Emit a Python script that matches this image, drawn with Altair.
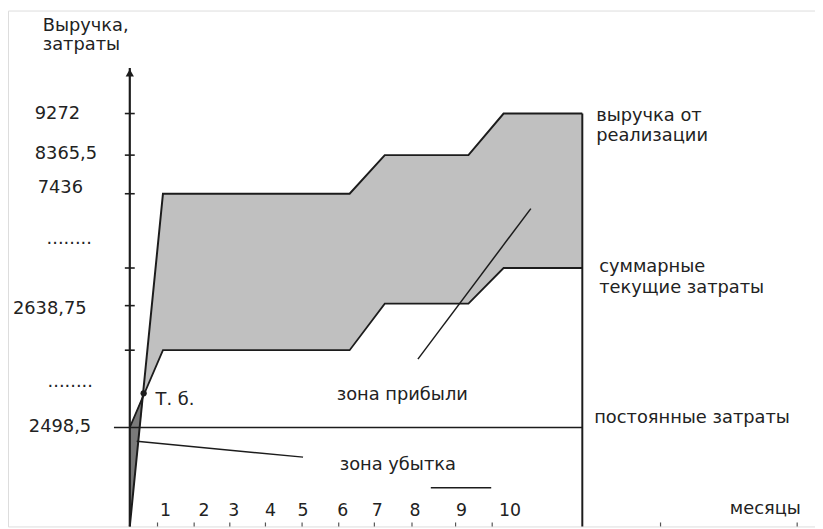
import altair as alt
import pandas as pd

# ---- diagram geometry (schematic units: x to the right, y downward) ----
AXIS_X = 131
AXIS_TOP = 66
BOTTOM = 529
RIGHT_X = 588
FIXED_Y = 429

# step breakpoints shared by revenue and total-cost lines
step_x = [164.5, 353, 388.5, 473, 508.5, 588]
revenue_y = [193, 193, 154, 154, 112, 112]
cost_y = [351, 351, 304, 304, 268, 268]
revenue_start = (131, 529)
cost_start = (131, 429)
breakeven = (145, 394.5)

y_tick_pos = [112, 154, 193, 268, 306, 351]

# left labels (text, x_left, y_center)
left_labels = ["Выручка,", "затраты", "9272", "8365,5", "7436", "2638,75", "2498,5", "Т. б."]
left_x = [43, 43, 35, 35, 38, 13, 29, 157]
left_y = [23.5, 43, 113, 153, 187, 309, 429, 401]

dot_labels = ["........", "........"]
dot_x = [47, 48]
dot_y = [244, 388]

# right / inner labels
note_labels = ["выручка от", "реализации", "суммарные", "текущие затраты",
               "постоянные затраты", "зона прибыли", "зона убытка", "месяцы"]
note_x = [602, 602, 605, 605, 600, 340, 343, 737]
note_y = [114.5, 135, 267.5, 288, 419.5, 396, 466.5, 511.5]

months = ["1", "2", "3", "4", "5", "6", "7", "8", "9", "10"]
month_x = [167, 206, 236, 273, 306, 346, 381, 419, 466, 515]
month_y = 513

bottom_ticks = [159, 196, 232, 268, 305, 342, 378, 416, 460, 497, 667, 805]

# extra strokes
loss_line = ([138, 306], [443, 459])
diag_line = ([422, 536], [360, 208])
short_line = ([435, 496], [490, 490])

# ---------------------------------------------------------------
X = alt.Scale(domain=[8, 823], nice=False, zero=False)
Y = alt.Scale(domain=[8, 529], nice=False, zero=False, reverse=True)
INK = "#1c1c1c"
FONT = "DejaVu Sans"


def xq(f="x"):
    return alt.X(f"{f}:Q", scale=X, axis=None)


def yq(f="y"):
    return alt.Y(f"{f}:Q", scale=Y, axis=None)


# light grey profit area
area_df = pd.DataFrame({
    "x": [breakeven[0]] + step_x,
    "y": [breakeven[1]] + revenue_y,
    "y2": [breakeven[1]] + cost_y,
})
light = alt.Chart(area_df).mark_area(color="#c0c0c0", opacity=1).encode(
    x=xq(), y=yq(), y2="y2:Q")

# dark grey loss wedge
dark_df = pd.DataFrame({
    "x": [revenue_start[0], breakeven[0]],
    "y": [revenue_start[1], breakeven[1]],
    "y2": [cost_start[1], breakeven[1]],
})
dark = alt.Chart(dark_df).mark_area(color="#7a7a7a", opacity=1).encode(
    x=xq(), y=yq(), y2="y2:Q")

rev_df = pd.DataFrame({"x": [revenue_start[0]] + step_x,
                       "y": [revenue_start[1]] + revenue_y,
                       "o": range(len(step_x) + 1)})
rev_line = alt.Chart(rev_df).mark_line(color=INK, strokeWidth=2).encode(
    x=xq(), y=yq(), order="o:Q")

cost_df = pd.DataFrame({"x": [cost_start[0]] + step_x,
                        "y": [cost_start[1]] + cost_y,
                        "o": range(len(step_x) + 1)})
cost_line = alt.Chart(cost_df).mark_line(color=INK, strokeWidth=1.8).encode(
    x=xq(), y=yq(), order="o:Q")

# segments: y axis, right vertical, fixed cost line, loss line, diagonal, short
seg_df = pd.DataFrame({
    "x": [AXIS_X, RIGHT_X, 115, loss_line[0][0], diag_line[0][0], short_line[0][0]],
    "x2": [AXIS_X, RIGHT_X, RIGHT_X, loss_line[0][1], diag_line[0][1], short_line[0][1]],
    "y": [AXIS_TOP, revenue_y[-1], FIXED_Y, loss_line[1][0], diag_line[1][0], short_line[1][0]],
    "y2": [BOTTOM, BOTTOM, FIXED_Y, loss_line[1][1], diag_line[1][1], short_line[1][1]],
    "w": [2.2, 2, 1.6, 1.5, 1.5, 1.5],
})
segs = alt.Chart(seg_df).mark_rule(color=INK).encode(
    x=xq(), x2="x2:Q", y=yq(), y2="y2:Q",
    strokeWidth=alt.StrokeWidth("w:Q", scale=None))

# y ticks
yt_df = pd.DataFrame({"y": y_tick_pos, "x": [AXIS_X - 5] * len(y_tick_pos),
                      "x2": [AXIS_X + 5] * len(y_tick_pos)})
yticks = alt.Chart(yt_df).mark_rule(color=INK, strokeWidth=1.6).encode(
    x=xq(), x2="x2:Q", y=yq())

# bottom ticks (partly cut off)
bt_df = pd.DataFrame({"x": bottom_ticks, "y": [525] * len(bottom_ticks),
                      "y2": [529] * len(bottom_ticks)})
bticks = alt.Chart(bt_df).mark_rule(color="#555", strokeWidth=1.2).encode(
    x=xq(), y=yq(), y2="y2:Q")

# arrow head and break-even point
arrow = alt.Chart(pd.DataFrame({"x": [AXIS_X], "y": [71]})).mark_point(
    shape="triangle-up", filled=True, color=INK, size=70, opacity=1).encode(x=xq(), y=yq())
bep = alt.Chart(pd.DataFrame({"x": [breakeven[0]], "y": [breakeven[1]]})).mark_point(
    shape="circle", filled=True, color=INK, size=40, opacity=1).encode(x=xq(), y=yq())

# texts
lt_df = pd.DataFrame({"t": left_labels + note_labels,
                      "x": left_x + note_x, "y": left_y + note_y})
texts = alt.Chart(lt_df).mark_text(align="left", baseline="middle", font=FONT,
                                   fontSize=18, color="#222").encode(
    x=xq(), y=yq(), text="t:N")

dots_df = pd.DataFrame({"t": dot_labels, "x": dot_x, "y": dot_y})
dots = alt.Chart(dots_df).mark_text(align="left", baseline="alphabetic", font=FONT,
                                    fontSize=18, color="#222").encode(
    x=xq(), y=yq(), text="t:N")

m_df = pd.DataFrame({"t": months, "x": month_x, "y": [month_y] * len(months)})
mtext = alt.Chart(m_df).mark_text(align="center", baseline="middle", font=FONT,
                                  fontSize=17.5, color="#222").encode(
    x=xq(), y=yq(), text="t:N")

chart = alt.layer(light, dark, rev_line, cost_line, segs, yticks, bticks,
                  arrow, bep, texts, dots, mtext).properties(
    width=815, height=521, padding=0,
    autosize=alt.AutoSizeParams(type="none"),
).configure_view(stroke=None).configure(background="white")

chart.save("out.html", embed_options={"renderer": "svg", "actions": False})
